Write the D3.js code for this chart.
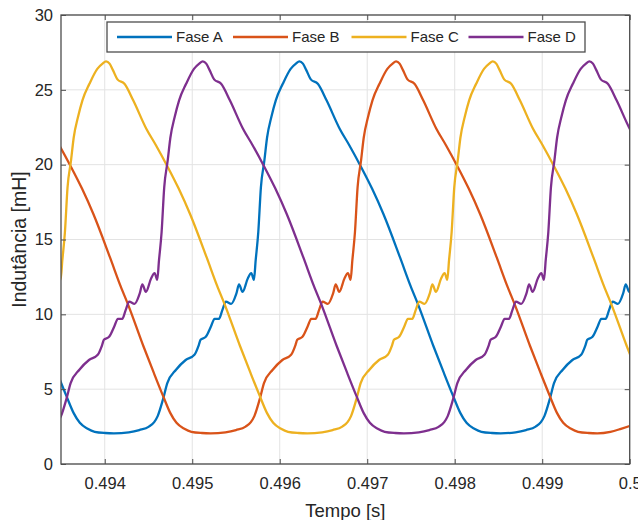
<!DOCTYPE html>
<html lang="pt">
<head>
  <meta charset="UTF-8">
  <title>Indutância por fase</title>
  <script src="https://d3js.org/d3.v7.min.js"></script>
  <style>
    body {
      margin: 0;
      padding: 0;
      background: #fff;
      font-family: "Liberation Sans", Arial, Helvetica, sans-serif;
    }
    .tick text {
      fill: #262626;
    }
  </style>
</head>
<body>
  <div id="chart"></div>

  <script>
    // [tempo (s), indutância (mH)]
    const faseA = [
      [0.493455, 6.1], [0.493565, 4.5], [0.493645, 3.4], [0.493715, 2.75], [0.493805, 2.35],
      [0.493885, 2.15], [0.494005, 2.07], [0.494105, 2.05], [0.494275, 2.12], [0.494395, 2.27],
      [0.494505, 2.5], [0.494565, 2.8], [0.494605, 3.2], [0.494665, 4.3], [0.494715, 5.4],
      [0.494815, 6.3], [0.494925, 6.95], [0.495025, 7.3], [0.495075, 7.95], [0.495095, 8.3],
      [0.495155, 8.5], [0.495215, 9.2], [0.495255, 9.7], [0.495305, 9.7], [0.495345, 10.3],
      [0.495385, 10.85], [0.495445, 10.7], [0.495505, 11.4], [0.495535, 12.0], [0.495575, 11.5],
      [0.495635, 12.4], [0.495675, 12.75], [0.495705, 12.3], [0.495725, 13.6], [0.495755, 15.5],
      [0.495785, 18.5], [0.495825, 20.3], [0.495855, 21.8], [0.495905, 23.2], [0.495955, 24.3],
      [0.496035, 25.4], [0.496125, 26.4], [0.496185, 26.75], [0.496225, 26.9], [0.496265, 26.75],
      [0.496305, 26.3], [0.496355, 25.7], [0.496435, 25.4], [0.496535, 24.3], [0.496685, 22.4],
      [0.496795, 21.3], [0.496925, 19.9], [0.497055, 18.4], [0.497185, 16.7], [0.497375, 13.8],
      [0.497495, 11.9], [0.497585, 10.6], [0.497755, 7.9], [0.497875, 6.1], [0.497985, 4.5],
      [0.498065, 3.4], [0.498135, 2.75], [0.498225, 2.35], [0.498305, 2.15], [0.498425, 2.07],
      [0.498525, 2.05], [0.498695, 2.12], [0.498815, 2.27], [0.498925, 2.5], [0.498985, 2.8],
      [0.499025, 3.2], [0.499085, 4.3], [0.499135, 5.4], [0.499235, 6.3], [0.499345, 6.95],
      [0.499445, 7.3], [0.499495, 7.95], [0.499515, 8.3], [0.499575, 8.5], [0.499635, 9.2],
      [0.499675, 9.7], [0.499725, 9.7], [0.499765, 10.3], [0.499805, 10.85], [0.499865, 10.7],
      [0.499925, 11.4], [0.499955, 12.0], [0.499995, 11.5], [0.500055, 12.4]
    ];

    const faseB = [
      [0.493370, 22.4], [0.493480, 21.3], [0.493610, 19.9], [0.493740, 18.4], [0.493870, 16.7],
      [0.494060, 13.8], [0.494180, 11.9], [0.494270, 10.6], [0.494440, 7.9], [0.494560, 6.1],
      [0.494670, 4.5], [0.494750, 3.4], [0.494820, 2.75], [0.494910, 2.35], [0.494990, 2.15],
      [0.495110, 2.07], [0.495210, 2.05], [0.495380, 2.12], [0.495500, 2.27], [0.495610, 2.5],
      [0.495670, 2.8], [0.495710, 3.2], [0.495770, 4.3], [0.495820, 5.4], [0.495920, 6.3],
      [0.496030, 6.95], [0.496130, 7.3], [0.496180, 7.95], [0.496200, 8.3], [0.496260, 8.5],
      [0.496320, 9.2], [0.496360, 9.7], [0.496410, 9.7], [0.496450, 10.3], [0.496490, 10.85],
      [0.496550, 10.7], [0.496610, 11.4], [0.496640, 12.0], [0.496680, 11.5], [0.496740, 12.4],
      [0.496780, 12.75], [0.496810, 12.3], [0.496830, 13.6], [0.496860, 15.5], [0.496890, 18.5],
      [0.496930, 20.3], [0.496960, 21.8], [0.497010, 23.2], [0.497060, 24.3], [0.497140, 25.4],
      [0.497230, 26.4], [0.497290, 26.75], [0.497330, 26.9], [0.497370, 26.75], [0.497410, 26.3],
      [0.497460, 25.7], [0.497540, 25.4], [0.497640, 24.3], [0.497790, 22.4], [0.497900, 21.3],
      [0.498030, 19.9], [0.498160, 18.4], [0.498290, 16.7], [0.498480, 13.8], [0.498600, 11.9],
      [0.498690, 10.6], [0.498860, 7.9], [0.498980, 6.1], [0.499090, 4.5], [0.499170, 3.4],
      [0.499240, 2.75], [0.499330, 2.35], [0.499410, 2.15], [0.499530, 2.07], [0.499630, 2.05],
      [0.499780, 2.15], [0.499900, 2.35], [0.500030, 2.6]
    ];

    const faseC = [
      [0.493425, 12.4], [0.493465, 12.75], [0.493495, 12.3], [0.493515, 13.6], [0.493545, 15.5],
      [0.493575, 18.5], [0.493615, 20.3], [0.493645, 21.8], [0.493695, 23.2], [0.493745, 24.3],
      [0.493825, 25.4], [0.493915, 26.4], [0.493975, 26.75], [0.494015, 26.9], [0.494055, 26.75],
      [0.494095, 26.3], [0.494145, 25.7], [0.494225, 25.4], [0.494325, 24.3], [0.494475, 22.4],
      [0.494585, 21.3], [0.494715, 19.9], [0.494845, 18.4], [0.494975, 16.7], [0.495165, 13.8],
      [0.495285, 11.9], [0.495375, 10.6], [0.495545, 7.9], [0.495665, 6.1], [0.495775, 4.5],
      [0.495855, 3.4], [0.495925, 2.75], [0.496015, 2.35], [0.496095, 2.15], [0.496215, 2.07],
      [0.496315, 2.05], [0.496485, 2.12], [0.496605, 2.27], [0.496715, 2.5], [0.496775, 2.8],
      [0.496815, 3.2], [0.496875, 4.3], [0.496925, 5.4], [0.497025, 6.3], [0.497135, 6.95],
      [0.497235, 7.3], [0.497285, 7.95], [0.497305, 8.3], [0.497365, 8.5], [0.497425, 9.2],
      [0.497465, 9.7], [0.497515, 9.7], [0.497555, 10.3], [0.497595, 10.85], [0.497655, 10.7],
      [0.497715, 11.4], [0.497745, 12.0], [0.497785, 11.5], [0.497845, 12.4], [0.497885, 12.75],
      [0.497915, 12.3], [0.497935, 13.6], [0.497965, 15.5], [0.497995, 18.5], [0.498035, 20.3],
      [0.498065, 21.8], [0.498115, 23.2], [0.498165, 24.3], [0.498245, 25.4], [0.498335, 26.4],
      [0.498395, 26.75], [0.498435, 26.9], [0.498475, 26.75], [0.498515, 26.3], [0.498565, 25.7],
      [0.498645, 25.4], [0.498745, 24.3], [0.498895, 22.4], [0.499005, 21.3], [0.499135, 19.9],
      [0.499265, 18.4], [0.499395, 16.7], [0.499585, 13.8], [0.499705, 11.9], [0.499795, 10.6],
      [0.499965, 7.9], [0.500085, 6.1]
    ];

    const faseD = [
      [0.493460, 2.8], [0.493500, 3.2], [0.493560, 4.3], [0.493610, 5.4], [0.493710, 6.3],
      [0.493820, 6.95], [0.493920, 7.3], [0.493970, 7.95], [0.493990, 8.3], [0.494050, 8.5],
      [0.494110, 9.2], [0.494150, 9.7], [0.494200, 9.7], [0.494240, 10.3], [0.494280, 10.85],
      [0.494340, 10.7], [0.494400, 11.4], [0.494430, 12.0], [0.494470, 11.5], [0.494530, 12.4],
      [0.494570, 12.75], [0.494600, 12.3], [0.494620, 13.6], [0.494650, 15.5], [0.494680, 18.5],
      [0.494720, 20.3], [0.494750, 21.8], [0.494800, 23.2], [0.494850, 24.3], [0.494930, 25.4],
      [0.495020, 26.4], [0.495080, 26.75], [0.495120, 26.9], [0.495160, 26.75], [0.495200, 26.3],
      [0.495250, 25.7], [0.495330, 25.4], [0.495430, 24.3], [0.495580, 22.4], [0.495690, 21.3],
      [0.495820, 19.9], [0.495950, 18.4], [0.496080, 16.7], [0.496270, 13.8], [0.496390, 11.9],
      [0.496480, 10.6], [0.496650, 7.9], [0.496770, 6.1], [0.496880, 4.5], [0.496960, 3.4],
      [0.497030, 2.75], [0.497120, 2.35], [0.497200, 2.15], [0.497320, 2.07], [0.497420, 2.05],
      [0.497590, 2.12], [0.497710, 2.27], [0.497820, 2.5], [0.497880, 2.8], [0.497920, 3.2],
      [0.497980, 4.3], [0.498030, 5.4], [0.498130, 6.3], [0.498240, 6.95], [0.498340, 7.3],
      [0.498390, 7.95], [0.498410, 8.3], [0.498470, 8.5], [0.498530, 9.2], [0.498570, 9.7],
      [0.498620, 9.7], [0.498660, 10.3], [0.498700, 10.85], [0.498760, 10.7], [0.498820, 11.4],
      [0.498850, 12.0], [0.498890, 11.5], [0.498950, 12.4], [0.498990, 12.75], [0.499020, 12.3],
      [0.499040, 13.6], [0.499070, 15.5], [0.499100, 18.5], [0.499140, 20.3], [0.499170, 21.8],
      [0.499220, 23.2], [0.499270, 24.3], [0.499350, 25.4], [0.499440, 26.4], [0.499500, 26.75],
      [0.499540, 26.9], [0.499580, 26.75], [0.499620, 26.3], [0.499670, 25.7], [0.499750, 25.4],
      [0.499850, 24.3], [0.500000, 22.4], [0.500110, 21.3]
    ];

    const seriesNames = ["Fase A", "Fase B", "Fase C", "Fase D"];
    const seriesColors = ["#0072BD", "#D95319", "#EDB120", "#7E2F8E"];
    const xTicks = [0.494, 0.495, 0.496, 0.497, 0.498, 0.499, 0.5];
    const xTickLabels = ["0.494", "0.495", "0.496", "0.497", "0.498", "0.499", "0.5"];
    const yTicks = [0, 5, 10, 15, 20, 25, 30];

    const W = 638, H = 520;
    const margin = { top: 15, right: 8.3, bottom: 56, left: 61 };
    const width = W - margin.left - margin.right;
    const height = H - margin.top - margin.bottom;
    const axisColor = "#4d4d4d";

    const svg = d3.select("#chart")
      .append("svg")
      .attr("width", W)
      .attr("height", H);

    const g = svg.append("g")
      .attr("transform", `translate(${margin.left},${margin.top})`);

    const x = d3.scaleLinear()
      .domain([0.4935, 0.5])
      .range([0, width]);

    const y = d3.scaleLinear()
      .domain([0, 30])
      .range([height, 0]);

    // grid
    g.append("g")
      .selectAll("line")
      .data(xTicks)
      .join("line")
      .attr("x1", d => x(d)).attr("x2", d => x(d))
      .attr("y1", 0).attr("y2", height)
      .attr("stroke", "#e3e3e3").attr("stroke-width", 1);

    g.append("g")
      .selectAll("line")
      .data(yTicks)
      .join("line")
      .attr("x1", 0).attr("x2", width)
      .attr("y1", d => y(d)).attr("y2", d => y(d))
      .attr("stroke", "#e3e3e3").attr("stroke-width", 1);

    // lines
    g.append("clipPath").attr("id", "clip")
      .append("rect").attr("width", width).attr("height", height);

    const line = d3.line()
      .x(d => x(d[0]))
      .y(d => y(d[1]))
      .curve(d3.curveMonotoneX);

    const allSeries = [faseA, faseB, faseC, faseD];

    g.append("g")
      .attr("clip-path", "url(#clip)")
      .selectAll("path")
      .data(allSeries)
      .join("path")
      .attr("fill", "none")
      .attr("stroke", (d, i) => seriesColors[i])
      .attr("stroke-width", 2.3)
      .attr("stroke-linejoin", "round")
      .attr("d", line);

    // axes (ticks pointing inward, MATLAB style)
    g.append("g")
      .attr("transform", `translate(0,${height})`)
      .call(d3.axisBottom(x).tickValues(xTicks)
        .tickFormat((d, i) => xTickLabels[i])
        .tickSizeInner(-5).tickSizeOuter(0).tickPadding(13));

    g.append("g")
      .call(d3.axisLeft(y).tickValues(yTicks)
        .tickSizeInner(-5).tickSizeOuter(0).tickPadding(8));

    g.append("g")
      .call(d3.axisTop(x).tickValues(xTicks).tickFormat("")
        .tickSizeInner(-5).tickSizeOuter(0));

    g.append("g")
      .attr("transform", `translate(${width},0)`)
      .call(d3.axisRight(y).tickValues(yTicks).tickFormat("")
        .tickSizeInner(-5).tickSizeOuter(0));

    g.selectAll(".domain").remove();
    g.selectAll(".tick line").attr("stroke", axisColor);
    g.selectAll(".tick text")
      .attr("font-family", '"Liberation Sans", Arial, sans-serif')
      .attr("font-size", 16.5);

    g.append("rect")
      .attr("width", width).attr("height", height)
      .attr("fill", "none")
      .attr("stroke", axisColor).attr("stroke-width", 1.3);

    // axis labels
    svg.append("text")
      .attr("x", margin.left + width / 2)
      .attr("y", 517)
      .attr("text-anchor", "middle")
      .attr("font-size", 18.5)
      .attr("fill", "#262626")
      .text("Tempo [s]");

    svg.append("text")
      .attr("transform", `translate(26,${margin.top + height / 2}) rotate(-90)`)
      .attr("text-anchor", "middle")
      .attr("font-size", 19.5)
      .attr("fill", "#262626")
      .text("Indutância [mH]");

    // legend
    const legend = svg.append("g").attr("transform", "translate(107,22)");
    legend.append("rect")
      .attr("width", 478).attr("height", 30)
      .attr("fill", "#fff")
      .attr("stroke", axisColor).attr("stroke-width", 1.3);

    const legendX = [10, 126, 244.5, 361.5];
    const item = legend.selectAll("g.item")
      .data(seriesNames)
      .join("g")
      .attr("transform", (d, i) => `translate(${legendX[i]},15)`);

    item.append("line")
      .attr("x1", 0).attr("x2", 55)
      .attr("stroke", (d, i) => seriesColors[i])
      .attr("stroke-width", 2.3);

    item.append("text")
      .attr("x", 59)
      .attr("dy", "0.36em")
      .attr("font-size", 15)
      .attr("fill", "#262626")
      .text(d => d);
  </script>
</body>
</html>
